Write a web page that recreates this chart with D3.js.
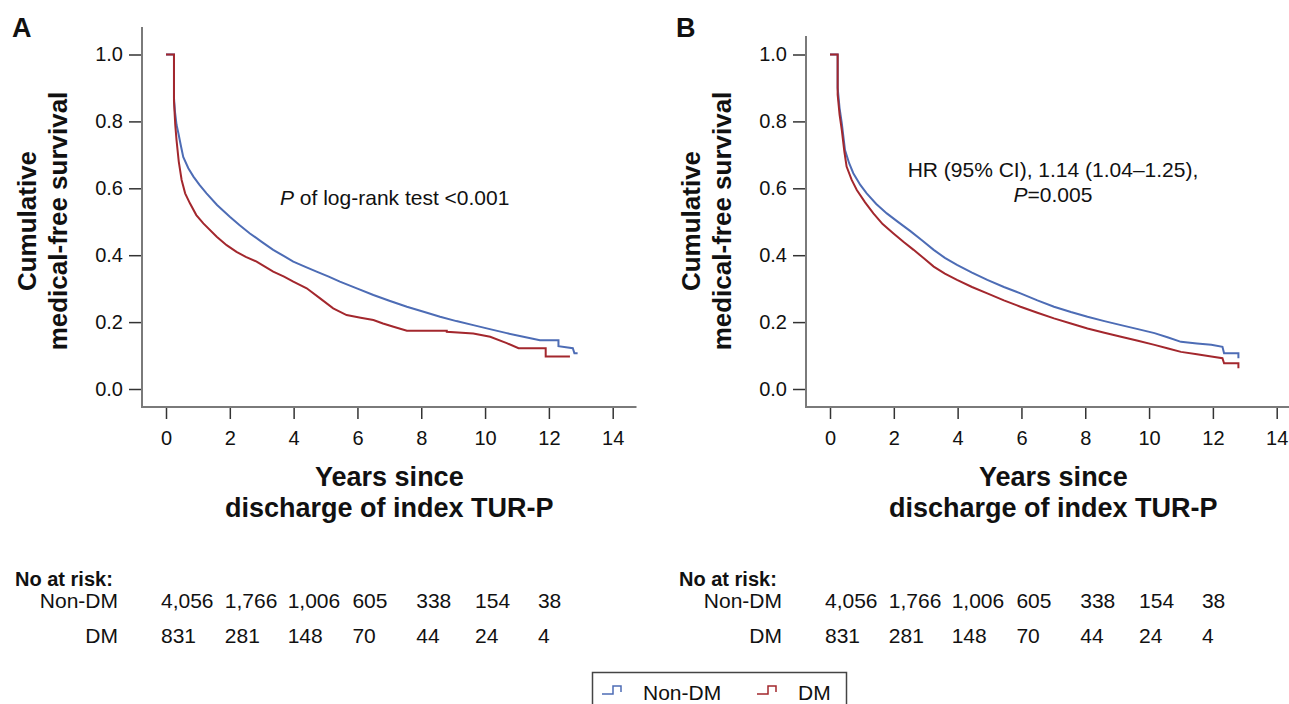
<!DOCTYPE html>
<html>
<head>
<meta charset="utf-8">
<script src="https://cdn.jsdelivr.net/npm/d3@7"></script>
<style>
    body { margin: 0; background: #fff; }
    text { font-family: "Liberation Sans", Arial, sans-serif; fill: #111; }
</style>
</head>
<body>
<div id="chart"></div>
<script>
// Axis ticks
var xTicks = [0, 2, 4, 6, 8, 10, 12, 14];
var yTicks = [0.0, 0.2, 0.4, 0.6, 0.8, 1.0];

// Numbers at risk (same table under both panels)
var riskYears = [0, 2, 4, 6, 8, 10, 12];
var riskNonDM = ["4,056", "1,766", "1,006", "605", "338", "154", "38"];
var riskDM = ["831", "281", "148", "70", "44", "24", "4"];

// Kaplan-Meier curves: [years, survival]
var kmA_nonDM = [[0, 1], [0.25, 1], [0.25, 0.87], [0.28, 0.83], [0.33, 0.79], [0.39, 0.764], [0.46, 0.73],
    [0.54, 0.694], [0.7, 0.66], [0.86, 0.635], [1.05, 0.61], [1.27, 0.585], [1.6, 0.55], [2.0, 0.515],
    [2.3, 0.49], [2.63, 0.465], [3.0, 0.44], [3.36, 0.416], [3.7, 0.397], [3.99, 0.381], [4.35, 0.366],
    [4.72, 0.351], [5.1, 0.336], [5.45, 0.321], [6.0, 0.3], [6.5, 0.281], [7.0, 0.264], [7.55, 0.246],
    [8.1, 0.23], [8.59, 0.216], [9.1, 0.203], [9.63, 0.191], [10.15, 0.179], [10.68, 0.167], [11.2, 0.156],
    [11.72, 0.146], [12.3, 0.146], [12.3, 0.128], [12.75, 0.122], [12.8, 0.107], [12.9, 0.107]];
var kmA_DM = [[0, 1], [0.25, 1], [0.25, 0.86], [0.29, 0.79], [0.33, 0.744], [0.4, 0.68], [0.49, 0.625],
    [0.6, 0.585], [0.75, 0.555], [0.95, 0.52], [1.17, 0.495], [1.59, 0.455], [1.9, 0.43], [2.21, 0.41],
    [2.5, 0.395], [2.84, 0.381], [3.1, 0.366], [3.36, 0.351], [3.7, 0.336], [3.99, 0.321], [4.41, 0.301],
    [4.83, 0.271], [5.24, 0.241], [5.66, 0.221], [6.1, 0.213], [6.5, 0.206], [6.8, 0.196], [7.13, 0.186],
    [7.55, 0.174], [8.8, 0.174], [8.8, 0.171], [9.63, 0.166], [10.16, 0.156], [10.68, 0.137], [11.05, 0.122],
    [11.9, 0.122], [11.9, 0.097], [12.66, 0.097]];
var kmB_nonDM = [[0, 1], [0.24, 1], [0.24, 0.9], [0.3, 0.84], [0.37, 0.794], [0.47, 0.714], [0.6, 0.675],
    [0.73, 0.645], [0.95, 0.61], [1.15, 0.585], [1.45, 0.553], [1.78, 0.525], [2.15, 0.498], [2.52, 0.472],
    [2.9, 0.443], [3.25, 0.416], [3.6, 0.392], [3.98, 0.371], [4.45, 0.348], [4.93, 0.326], [5.45, 0.305],
    [5.97, 0.286], [6.5, 0.265], [7.02, 0.246], [7.55, 0.23], [8.07, 0.216], [8.6, 0.203], [9.12, 0.191],
    [9.65, 0.179], [10.17, 0.167], [10.6, 0.154], [11.0, 0.141], [11.5, 0.136], [11.95, 0.132], [12.3, 0.126],
    [12.35, 0.107], [12.8, 0.107], [12.8, 0.092]];
var kmB_DM = [[0, 1], [0.24, 1], [0.24, 0.88], [0.3, 0.82], [0.37, 0.774], [0.45, 0.71], [0.52, 0.665],
    [0.68, 0.625], [0.84, 0.595], [1.1, 0.558], [1.36, 0.525], [1.65, 0.493], [1.99, 0.465], [2.3, 0.44],
    [2.62, 0.416], [2.95, 0.39], [3.25, 0.366], [3.6, 0.345], [3.98, 0.326], [4.45, 0.305], [4.93, 0.286],
    [5.45, 0.265], [5.97, 0.246], [6.5, 0.228], [7.02, 0.211], [7.55, 0.196], [8.07, 0.181], [8.6, 0.168],
    [9.12, 0.156], [9.65, 0.144], [10.17, 0.132], [10.6, 0.121], [11.0, 0.111], [11.5, 0.104], [11.95, 0.097],
    [12.3, 0.092], [12.35, 0.077], [12.8, 0.077], [12.8, 0.062]];

var blue = "#4d6cb5";
var red = "#a3272d";
var axisGrey = "#7a7a7a";

var svgWidth = 1289;
var svgHeight = 704;

var svg = d3.select("#chart")
    .append("svg")
    .attr("width", svgWidth)
    .attr("height", svgHeight);

// Shared scales, each panel is shifted with a group transform
var xScale = d3.scaleLinear().domain([0, 14]).range([166, 612.7]);
var yScale = d3.scaleLinear().domain([0, 1]).range([389, 54.5]);
var axisY = 407;
var axisX = 142;

var line = d3.line()
    .x(d => xScale(d[0]))
    .y(d => yScale(d[1]));

function drawPanel(dx, letter, axisTop, axisRight, nonDM, dm) {
    var g = svg.append("g").attr("transform", `translate(${dx}, 0)`);

    // panel letter
    g.append("text")
        .attr("x", 12).attr("y", 37)
        .attr("font-size", "27px").attr("font-weight", "bold")
        .text(letter);

    // y axis
    var yAxis = d3.axisLeft(yScale).tickValues(yTicks)
        .tickFormat(d3.format(".1f")).tickSize(13).tickPadding(6).tickSizeOuter(0);
    var yg = g.append("g").attr("transform", `translate(${axisX}, 0)`).call(yAxis);
    yg.select(".domain").remove();
    yg.selectAll(".tick line").attr("stroke", "#333").attr("stroke-width", 1.5);
    yg.selectAll(".tick text").attr("font-size", "20px").attr("fill", "#111")
        .attr("font-family", "Liberation Sans, Arial, sans-serif");

    // x axis
    var xAxis = d3.axisBottom(xScale).tickValues(xTicks).tickSize(12).tickPadding(12).tickSizeOuter(0);
    var xg = g.append("g").attr("transform", `translate(0, ${axisY})`).call(xAxis);
    xg.select(".domain").remove();
    xg.selectAll(".tick line").attr("stroke", "#333").attr("stroke-width", 1.5);
    xg.selectAll(".tick text").attr("font-size", "20px").attr("fill", "#111")
        .attr("font-family", "Liberation Sans, Arial, sans-serif");

    // axis frame lines
    g.append("path")
        .attr("d", `M${axisX},${axisTop}V${axisY}H${axisRight}`)
        .attr("fill", "none")
        .attr("stroke", axisGrey)
        .attr("stroke-width", 2);

    // curves, DM drawn last
    g.append("path").datum(nonDM)
        .attr("d", line).attr("fill", "none")
        .attr("stroke", blue).attr("stroke-width", 2);
    g.append("path").datum(dm)
        .attr("d", line).attr("fill", "none")
        .attr("stroke", red).attr("stroke-width", 2);

    // y axis title
    var yTitle = g.append("text")
        .attr("transform", "translate(0, 221) rotate(-90)")
        .attr("text-anchor", "middle")
        .attr("font-size", "26px").attr("font-weight", "bold");
    yTitle.append("tspan").attr("x", 0).attr("y", 36).text("Cumulative");
    yTitle.append("tspan").attr("x", 0).attr("y", 67).text("medical-free survival");

    // x axis title
    var xMid = (xScale(0) + xScale(14)) / 2;
    g.append("text")
        .attr("x", xMid).attr("y", 486)
        .attr("text-anchor", "middle")
        .attr("font-size", "27px").attr("font-weight", "bold")
        .text("Years since");
    g.append("text")
        .attr("x", xMid).attr("y", 517)
        .attr("text-anchor", "middle")
        .attr("font-size", "27px").attr("font-weight", "bold")
        .text("discharge of index TUR-P");

    // numbers at risk
    g.append("text")
        .attr("x", 15).attr("y", 586)
        .attr("font-size", "20px").attr("font-weight", "bold")
        .text("No at risk:");
    g.append("text")
        .attr("x", 118).attr("y", 608)
        .attr("text-anchor", "end").attr("font-size", "21px")
        .text("Non-DM");
    g.append("text")
        .attr("x", 118).attr("y", 643)
        .attr("text-anchor", "end").attr("font-size", "21px")
        .text("DM");

    // columns, shifted a little left of the tick they belong to
    var colShift = [5, 5, 6, 5, 5, 10, 11];
    g.selectAll(".risk-non")
        .data(riskNonDM)
        .enter()
        .append("text")
        .attr("x", (d, i) => xScale(riskYears[i]) - colShift[i])
        .attr("y", 608)
        .attr("font-size", "21px")
        .text(d => d);
    g.selectAll(".risk-dm")
        .data(riskDM)
        .enter()
        .append("text")
        .attr("x", (d, i) => xScale(riskYears[i]) - colShift[i])
        .attr("y", 643)
        .attr("font-size", "21px")
        .text(d => d);

    return g;
}

var gA = drawPanel(0, "A", 27, 636.5, kmA_nonDM, kmA_DM);
var gB = drawPanel(664, "B", 36, 1300 - 664, kmB_nonDM, kmB_DM);

// annotations
var annA = gA.append("text")
    .attr("x", 280).attr("y", 205)
    .attr("font-size", "21px");
annA.append("tspan").attr("font-style", "italic").text("P");
annA.append("tspan").text(" of log-rank test <0.001");

gB.append("text")
    .attr("x", 389).attr("y", 177)
    .attr("text-anchor", "middle")
    .attr("font-size", "21px")
    .text("HR (95% CI), 1.14 (1.04\u20131.25),");
var annB = gB.append("text")
    .attr("x", 389).attr("y", 202)
    .attr("text-anchor", "middle")
    .attr("font-size", "21px");
annB.append("tspan").attr("font-style", "italic").text("P");
annB.append("tspan").text("=0.005");

// legend
var legend = svg.append("g");
legend.append("rect")
    .attr("x", 592.5).attr("y", 672.5)
    .attr("width", 254).attr("height", 40)
    .attr("fill", "#fff")
    .attr("stroke", "#444").attr("stroke-width", 1.5);

var legendItems = [
    { label: "Non-DM", color: blue, x: 602 },
    { label: "DM", color: red, x: 757 }
];
legendItems.forEach(function (item) {
    legend.append("path")
        .attr("d", `M${item.x},694H${item.x + 11}V686H${item.x + 19}V692`)
        .attr("fill", "none")
        .attr("stroke", item.color)
        .attr("stroke-width", 1.5);
    legend.append("text")
        .attr("x", item.x + 41).attr("y", 700)
        .attr("font-size", "21px")
        .text(item.label);
});
</script>
</body>
</html>
